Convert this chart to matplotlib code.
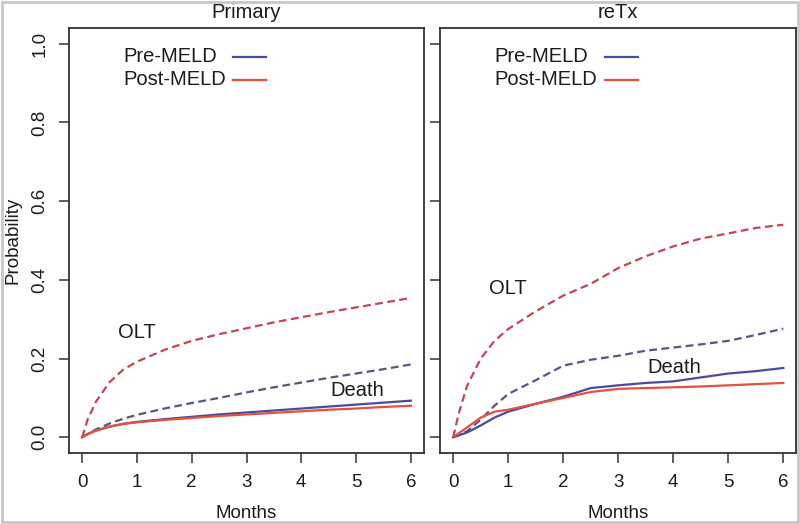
import matplotlib
matplotlib.use("Agg")
import matplotlib.pyplot as plt
from matplotlib.patches import Rectangle

plt.rcParams['font.family'] = ['Liberation Sans', 'DejaVu Sans']

months = [0, 0.1, 0.25, 0.5, 0.75, 1, 1.5, 2, 2.5, 3, 3.5, 4, 4.5, 5, 5.5, 6]

# Primary
prim_olt_post = [0, 0.045, 0.09, 0.14, 0.172, 0.192, 0.222, 0.245, 0.262, 0.277, 0.292, 0.305, 0.318, 0.330, 0.342, 0.354]
prim_olt_pre = [0, 0.008, 0.02, 0.035, 0.047, 0.057, 0.073, 0.087, 0.100, 0.114, 0.127, 0.139, 0.151, 0.162, 0.173, 0.185]
prim_death_pre = [0, 0.008, 0.017, 0.027, 0.034, 0.039, 0.046, 0.052, 0.058, 0.063, 0.068, 0.073, 0.078, 0.083, 0.088, 0.093]
prim_death_post = [0, 0.008, 0.017, 0.027, 0.034, 0.038, 0.044, 0.049, 0.054, 0.058, 0.062, 0.066, 0.070, 0.073, 0.077, 0.080]

# reTx
retx_olt_post = [0, 0.06, 0.13, 0.20, 0.245, 0.275, 0.32, 0.36, 0.39, 0.43, 0.46, 0.485, 0.505, 0.518, 0.532, 0.54]
retx_olt_pre = [0, 0.005, 0.015, 0.045, 0.08, 0.11, 0.145, 0.182, 0.197, 0.207, 0.22, 0.228, 0.236, 0.245, 0.26, 0.276]
retx_death_pre = [0, 0.005, 0.012, 0.03, 0.05, 0.065, 0.085, 0.103, 0.125, 0.132, 0.138, 0.142, 0.152, 0.162, 0.168, 0.176]
retx_death_post = [0, 0.01, 0.025, 0.05, 0.065, 0.07, 0.085, 0.10, 0.115, 0.123, 0.125, 0.127, 0.129, 0.132, 0.135, 0.138]

panels = ["Primary", "reTx"]
legend_labels = ["Pre-MELD", "Post-MELD"]
xticks = [0, 1, 2, 3, 4, 5, 6]
yticks = [0.0, 0.2, 0.4, 0.6, 0.8, 1.0]
ytick_labels = ["0.0", "0.2", "0.4", "0.6", "0.8", "1.0"]

BLUE = "#4a4aa0"
RED = "#e5503f"
BLUE_D = "#565680"
RED_D = "#c04852"
FS = 13.5
FS_T = 14.5
TXT = "#1c1c1c"

fig = plt.figure(figsize=(8, 5.24), dpi=100)
fig.patches.append(Rectangle((0.002, 0.003), 0.996, 0.994, transform=fig.transFigure,
                             fill=False, edgecolor="#c8c8c8", linewidth=2))

ax1 = fig.add_axes([0.08625, 0.1355, 0.44375, 0.811])
ax2 = fig.add_axes([0.55, 0.1355, 0.4456, 0.811])

data = [
    (prim_olt_post, prim_olt_pre, prim_death_pre, prim_death_post, (1.0, 0.265), (5.02, 0.118)),
    (retx_olt_post, retx_olt_pre, retx_death_pre, retx_death_post, (0.99, 0.379), (4.01, 0.178)),
]

for i, (ax, title, d) in enumerate(zip([ax1, ax2], panels, data)):
    olt_post, olt_pre, death_pre, death_post, olt_pos, death_pos = d
    ax.plot(months, olt_pre, color=BLUE_D, lw=1.6, dashes=(3.5, 2))
    ax.plot(months, olt_post, color=RED_D, lw=1.6, dashes=(3.5, 2))
    ax.plot(months, death_pre, color=BLUE, lw=1.6)
    ax.plot(months, death_post, color=RED, lw=1.6)
    ax.text(olt_pos[0], olt_pos[1], "OLT", fontsize=FS_T, ha="center", va="center", color=TXT)
    ax.text(death_pos[0], death_pos[1], "Death", fontsize=FS_T, ha="center", va="center", color=TXT)

    # legend (text then line)
    for j, (lab, col) in enumerate(zip(legend_labels, [BLUE, RED])):
        yy = [0.932, 0.878][j]
        ax.text(0.152, yy, lab, transform=ax.transAxes, fontsize=FS_T, ha="left", va="center", color=TXT)
        ax.plot([0.462, 0.555], [yy, yy], transform=ax.transAxes, color=col, lw=1.6)

    ax.set_xlim(-0.24, 6.24)
    ax.set_ylim(-0.04, 1.04)
    ax.set_xticks(xticks)
    ax.set_xticklabels([str(t) for t in xticks], fontsize=FS)
    ax.set_yticks(yticks)
    if i == 0:
        ax.set_yticklabels(ytick_labels, fontsize=FS, rotation=90, va="center")
        ax.set_ylabel("Probability", fontsize=FS, labelpad=7, color=TXT)
    else:
        ax.set_yticklabels([])
    ax.tick_params(axis="both", direction="out", length=7, width=1.1, color="#333333",
                   labelcolor=TXT)
    ax.tick_params(axis="x", pad=8)
    ax.tick_params(axis="y", pad=8)
    ax.set_xlabel("Months", fontsize=FS, labelpad=10, color=TXT)
    ax.set_title(title, fontsize=FS_T, pad=7, color=TXT)
    for s in ax.spines.values():
        s.set_linewidth(1.3)
        s.set_color("#333333")

fig.savefig("out.png", dpi=100)
